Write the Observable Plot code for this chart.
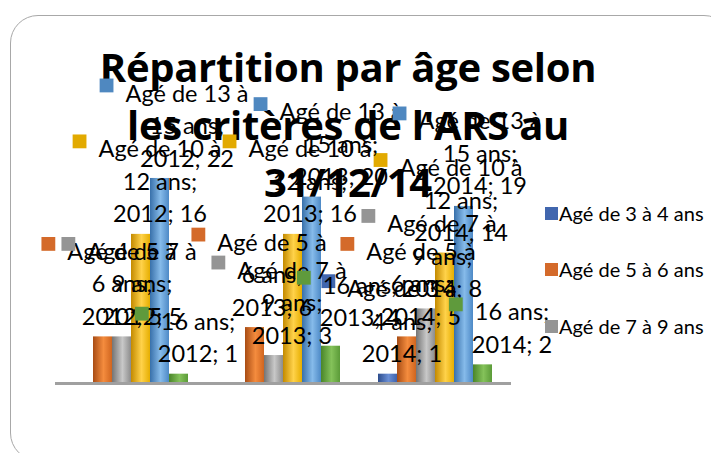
<!DOCTYPE html>
<html><head><meta charset="utf-8">
<script src="https://cdn.jsdelivr.net/npm/d3@7"></script>
<script src="https://cdn.jsdelivr.net/npm/@observablehq/plot@0.6"></script>
<style>
body{margin:0;background:#fff;}
#wrap{position:relative;width:711px;height:453px;overflow:hidden;font-family:Lato,sans-serif;color:#000;}
#box{position:absolute;left:10px;top:15px;width:722px;height:446px;border:1.5px solid #a8a8a8;border-radius:28px;box-sizing:border-box;}
#title{position:absolute;left:0;width:696px;top:38px;text-align:center;font-family:"Open Sans",sans-serif;font-weight:700;font-size:40px;line-height:57.5px;white-space:nowrap;letter-spacing:-0.3px;}
#chart{position:absolute;left:0;top:0;}
.lg{position:absolute;white-space:nowrap;font-size:20px;line-height:22px;}
.sw{position:absolute;width:13px;height:13px;}
</style></head>
<body><div id="wrap"><div id="box"></div><div id="title">Répartition par âge selon<br>les critères de l'ARS au<br>31/12/14</div><div id="chart"></div><div id="legend"></div></div>
<script>
const years = ["2012", "2013", "2014"];
const series = ["Agé de 3 à 4 ans", "Agé de 5 à 6 ans", "Agé de 7 à 9 ans", "Agé de 10 à 12 ans", "Agé de 13 à 15 ans", "16 ans"];
const age3to4 = [null, null, 1];
const age5to6 = [5, 6, 5];
const age7to9 = [5, 3, 8];
const age10to12 = [16, 16, 14];
const age13to15 = [22, 20, 19];
const age16 = [1, 4, 2];
const legendShown = ["Agé de 3 à 4 ans", "Agé de 5 à 6 ans", "Agé de 7 à 9 ans"];

// styles (kept apart from the values)
const keyColors = ["#4166ae", "#d46a2a", "#959595", "#e2aa00", "#4f88c0", "#5f9a3c"];
const gradStops = [
  ["#2c4c8c", "#6a8fd6", "#3f63ad"],
  ["#a84c14", "#f48c3e", "#d0651f"],
  ["#747474", "#c8c8c8", "#8c8c8c"],
  ["#c38a00", "#ffd24a", "#e6ae00"],
  ["#3870aa", "#86bbea", "#4d89c6"],
  ["#4a8529", "#84c25a", "#5b9b38"]
];
// horizontal nudges of the data labels, per series (rows) and year (cols)
const labelNudge = [
  [18, 18, 14],
  [19, 17, 14],
  [20, 18, 16],
  [19, 17, 16],
  [27, 29, 16],
  [19, 29, 29]
];
// extra vertical lift of some labels, per series and year
const labelLift = [
  [0, 0, 0],
  [0, 0, 0],
  [0, 0, 0],
  [0, 0, 0],
  [0, 0, 0],
  [0, 8, 0]
];

const valuesBySeries = [age3to4, age5to6, age7to9, age10to12, age13to15, age16];
const rows = [];
series.forEach((s, k) => years.forEach((yr, i) => {
  const v = valuesBySeries[k][i];
  if (v != null) rows.push({year: yr, series: s, value: v, k, i});
}));

const FS = 23.5, LH = 32.5;
function labelLines(d) {
  const w = d.series.split(" ");
  const lines = w.length > 2 ? [w.slice(0, -2).join(" "), w.slice(-2).join(" ") + ";"] : [d.series + ";"];
  lines.push(`${d.year}; ${d.value}`);
  return lines;
}
const ctx = document.createElement("canvas").getContext("2d");
ctx.font = `${FS}px Lato`;

const labelMarks = [];
rows.forEach(d => {
  const lines = labelLines(d);
  const n = lines.length;
  const dx = labelNudge[d.k][d.i];
  const lift = labelLift[d.k][d.i];
  const w1 = ctx.measureText(lines[0]).width;
  labelMarks.push(Plot.text([d], {
    fx: "year", x: "series", y: "value", text: () => lines.join("\n"),
    lineAnchor: "top", lineHeight: LH / FS, fontSize: FS, fill: "#000",
    dx: dx, dy: -35 - (n - 1) * LH - lift
  }));
  labelMarks.push(Plot.dot([d], {
    fx: "year", x: "series", y: "value", symbol: "square", r: 7.8,
    fill: keyColors[d.k], dx: dx - w1 / 2 - 19, dy: -28 - (n - 1) * LH - lift
  }));
});

const svg = Plot.plot({
  width: 711, height: 453,
  marginLeft: 54, marginRight: 199, marginTop: 150, marginBottom: 70,
  style: {fontFamily: "Lato, sans-serif", background: "transparent", overflow: "visible", color: "#000"},
  fx: {domain: years, padding: 0, axis: null},
  x: {domain: series, paddingInner: 0, paddingOuter: 0.817, axis: null},
  y: {domain: [0, 25], axis: null},
  color: {domain: series, range: series.map((s, k) => `url(#grad${k})`)},
  marks: [
    Plot.barY(rows, {fx: "year", x: "series", y: "value", fill: "series"}),
    Plot.ruleY([0], {stroke: "#a0a0a0", strokeWidth: 3}),
    ...labelMarks
  ]
});
const ns = "http://www.w3.org/2000/svg";
const defs = document.createElementNS(ns, "defs");
gradStops.forEach((st, k) => {
  const g = document.createElementNS(ns, "linearGradient");
  g.setAttribute("id", `grad${k}`);
  g.setAttribute("x1", "0"); g.setAttribute("x2", "1"); g.setAttribute("y1", "0"); g.setAttribute("y2", "0");
  [[0, st[0]], [0.55, st[1]], [1, st[2]]].forEach(([o, c]) => {
    const s = document.createElementNS(ns, "stop");
    s.setAttribute("offset", o); s.setAttribute("stop-color", c); g.appendChild(s);
  });
  defs.appendChild(g);
});
svg.insertBefore(defs, svg.firstChild);
document.getElementById("chart").appendChild(svg);

const legend = document.getElementById("legend");
const legendTops = [207, 263, 320];
legendShown.forEach((s, j) => {
  const k = series.indexOf(s);
  const sw = document.createElement("div");
  sw.className = "sw"; sw.style.left = "545px"; sw.style.top = legendTops[j] + "px"; sw.style.background = keyColors[k];
  const t = document.createElement("div");
  t.className = "lg"; t.style.left = "559px"; t.style.top = (legendTops[j] - 5) + "px"; t.textContent = s;
  legend.appendChild(sw); legend.appendChild(t);
});
</script></body></html>
